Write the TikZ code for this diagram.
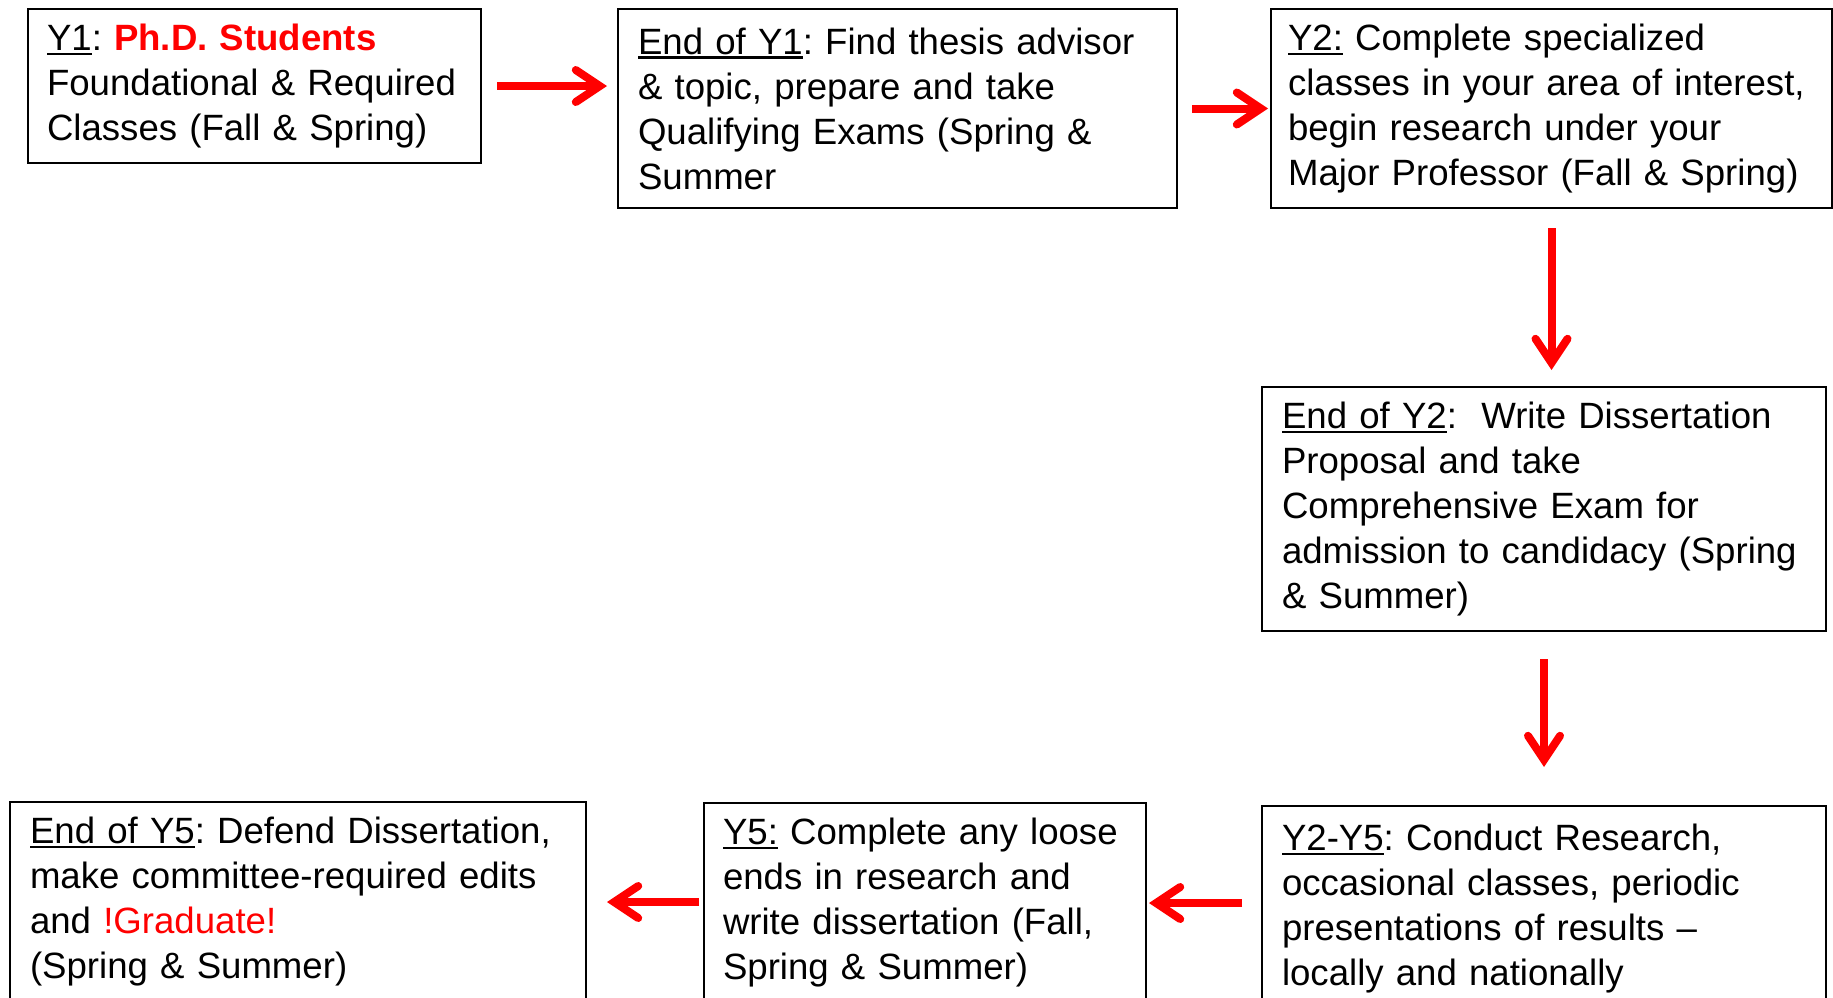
\documentclass[tikz,border=0pt]{standalone}
\usepackage{fontspec}
\setmainfont{Liberation Sans}
\usetikzlibrary{arrows.meta}
\frenchspacing

\tikzset{
  stagebox/.style={draw, line width=2pt, align=left, anchor=north west,
    inner xsep=20pt, inner ysep=0pt, font=\fontsize{36.6}{45}\selectfont},
  nextstep/.style={red, line width=8pt,
    -{Straight Barb[length=24pt, width=32pt, line cap=round, line join=miter]}},
}
\newsavebox\yrbox
\newcommand{\yr}[1]{\sbox\yrbox{#1}\rlap{\rule[-4.5pt]{\wd\yrbox}{2.4pt}}\usebox\yrbox}

\begin{document}
\begin{tikzpicture}[x=1pt, y=1pt]
\useasboundingbox (0,0) rectangle (1833,-997);
\clip (0,0) rectangle (1833,-997);
% top row
\node [stagebox, text width=415pt, minimum height=154pt, inner xsep=19pt] (b1) at (27,-8)
  {\yr{Y1}: {\color{red}\bfseries Ph.D. Students}\\ Foundational \& Required\\ Classes (Fall \& Spring)};
\node [stagebox, text width=519pt, minimum height=199pt] (b2) at (617,-8)
  {\yr{End of Y1}: Find thesis advisor\\ \& topic, prepare and take\\ Qualifying Exams (Spring \&\\ Summer};
\node [stagebox, text width=527pt, minimum height=199pt, inner xsep=17pt] (b3) at (1270,-8)
  {\yr{Y2:} Complete specialized\\ classes in your area of interest,\\ begin research under your\\ Major Professor (Fall \& Spring)};
% right column
\node [stagebox, text width=524pt, minimum height=244pt] (b4) at (1261,-386)
  {\yr{End of Y2}:\ \ Write Dissertation\\ Proposal and take\\ Comprehensive Exam for\\ admission to candidacy (Spring\\ \& Summer)};
% bottom row, cut off by the page edge
\node [stagebox, text width=524pt, minimum height=205pt] (b5) at (1261,-805)
  {\yr{Y2-Y5}: Conduct Research,\\ occasional classes, periodic\\ presentations of results --\\ locally and nationally};
\node [stagebox, text width=404pt, minimum height=200pt, inner xsep=19pt] (b6) at (703,-802)
  {\yr{Y5:} Complete any loose\\ ends in research and\\ write dissertation (Fall,\\ Spring \& Summer)};
\node [stagebox, text width=536pt, minimum height=200pt] (b7) at (9,-801)
  {\yr{End of Y5}: Defend Dissertation,\\ make committee-required edits\\ and {\color{red}!Graduate!}\\ (Spring \& Summer)};
% arrows
\draw [nextstep, shorten <=15pt, shorten >=10pt] (b1.east) -- (b1.east -| b2.west);
\draw [nextstep, shorten <=14pt, shorten >=2pt] (b2.east) -- (b2.east -| b3.west);
\draw [nextstep, shorten <=19pt, shorten >=16pt] (b3.south) -- (b3.south |- b4.north);
\draw [nextstep, shorten <=27pt, shorten >=38pt] (b4.south) -- (b4.south |- b5.north);
\draw [nextstep, shorten <=19pt, shorten >=2pt] (b6.east -| b5.west) -- (b6.east);
\draw [nextstep, shorten <=4pt, shorten >=20pt] (b7.east -| b6.west) -- (b7.east);
\end{tikzpicture}
\end{document}
